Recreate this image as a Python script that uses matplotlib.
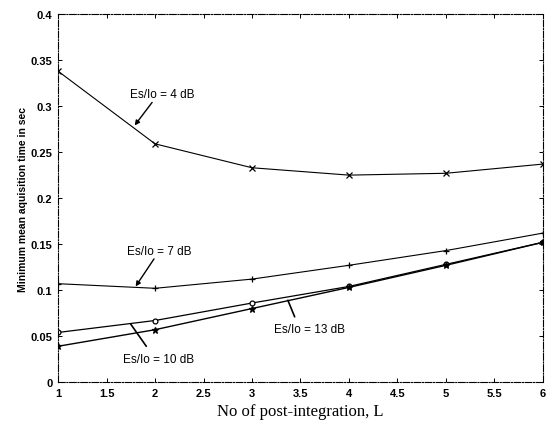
import numpy as np
import matplotlib
matplotlib.use('Agg')
import matplotlib.pyplot as plt

L = [1, 2, 3, 4, 5, 6]
# minimum mean acquisition time (sec) per Es/Io
t_4db = [0.338, 0.259, 0.233, 0.225, 0.227, 0.237]
t_7db = [0.107, 0.102, 0.112, 0.127, 0.143, 0.162]
t_10db = [0.054, 0.067, 0.086, 0.104, 0.128, 0.152]
t_13db = [0.039, 0.057, 0.080, 0.103, 0.127, 0.152]

xticks = [1, 1.5, 2, 2.5, 3, 3.5, 4, 4.5, 5, 5.5, 6]
xticklabels = ['1', '1.5', '2', '2.5', '3', '3.5', '4', '4.5', '5', '5.5', '6']
yticks = [0, 0.05, 0.1, 0.15, 0.2, 0.25, 0.3, 0.35, 0.4]
yticklabels = ['0', '0.05', '0.1', '0.15', '0.2', '0.25', '0.3', '0.35', '0.4']

sans = ['Liberation Sans', 'DejaVu Sans']

fig = plt.figure(figsize=(5.58, 4.31), dpi=100)
ax = fig.add_axes([0.104, 0.111, 0.869, 0.854])

ax.plot(L, t_4db, color='black', lw=0.8, marker='x', ms=4, mew=0.9)
ax.plot(L, t_7db, color='black', lw=0.8, marker='+', ms=4, mew=0.9)
ax.plot(L, t_10db, color='black', lw=0.9, marker='o', ms=3.5, mfc='white', mew=0.9)
ax.plot(L, t_13db, color='black', lw=1.0, marker='*', ms=5, mew=0.9)

ax.set_xlim(1, 6)
ax.set_ylim(0, 0.4)
ax.set_xticks(xticks)
ax.set_xticklabels(xticklabels, family=sans, fontsize=8, fontweight='bold')
ax.set_yticks(yticks)
ax.set_yticklabels(yticklabels, family=sans, fontsize=8, fontweight='bold')
ax.tick_params(direction='in', length=3, width=0.7, top=True, right=True, pad=4)
for s in ax.spines.values():
    s.set_linewidth(0.8)
    s.set_linestyle((0, (6, 1.5, 1, 1.5)))

ax.set_ylabel('Minimum mean aquisition time in sec', family=sans, fontsize=7.5,
              fontweight='bold', labelpad=2)
ax.set_xlabel('No of post-integration, L', family=['Liberation Serif', 'DejaVu Serif'],
              fontsize=12, labelpad=4)

arrow = dict(arrowstyle='-|>', color='black', lw=1.0, mutation_scale=7,
             shrinkA=0, shrinkB=0)
line = dict(arrowstyle='-', color='black', lw=1.2, shrinkA=0, shrinkB=0)
tkw = dict(family=sans, fontsize=8.5, ha='left', va='center')

ax.text(1.74, 0.313, 'Es/Io = 4 dB', **tkw)
ax.annotate('', xy=(1.79, 0.279), xytext=(1.97, 0.304), arrowprops=arrow)
ax.text(1.71, 0.143, 'Es/Io = 7 dB', **tkw)
ax.annotate('', xy=(1.80, 0.104), xytext=(1.99, 0.134), arrowprops=arrow)
ax.annotate('', xy=(1.75, 0.063), xytext=(1.91, 0.039), arrowprops=line)
ax.text(1.67, 0.025, 'Es/Io = 10 dB', **tkw)
ax.annotate('', xy=(3.37, 0.089), xytext=(3.44, 0.071), arrowprops=line)
ax.text(3.23, 0.058, 'Es/Io = 13 dB', **tkw)

fig.savefig('out.png', dpi=100)
